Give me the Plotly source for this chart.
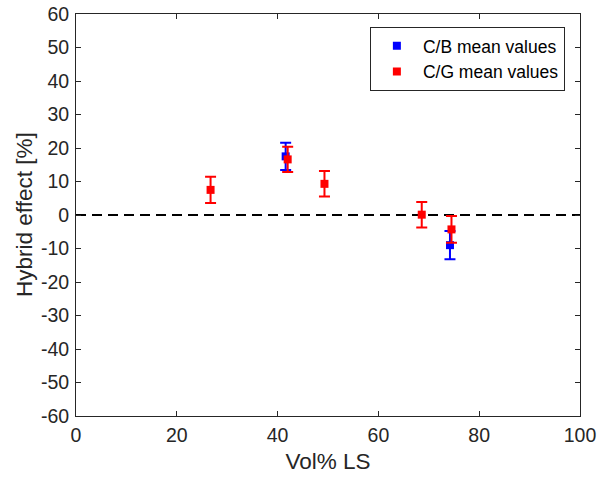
import plotly.graph_objects as go

cb_x = [41.6, 74.2]
cb_y = [17.5, -9.0]
cb_err = [4.1, 4.2]

cg_x = [26.7, 42.0, 49.3, 68.6, 74.5]
cg_y = [7.5, 16.6, 9.3, 0.1, -4.3]
cg_err = [3.9, 3.8, 3.8, 3.8, 4.0]

x_ticks = [0, 20, 40, 60, 80, 100]
y_ticks = list(range(-60, 61, 10))
y_tick_text = [str(v) for v in y_ticks]

font = "Liberation Sans, Arial, Helvetica, sans-serif"
ink = "#262626"

fig = go.Figure()
fig.add_trace(go.Scatter(x=[0, 100], y=[0, 0], mode="lines",
                         line=dict(color="black", width=2, dash="10px,6px"),
                         showlegend=False, hoverinfo="skip"))
fig.add_trace(go.Scatter(x=cb_x, y=cb_y, mode="markers", name="C/B mean values",
                         marker=dict(symbol="square", size=8, color="#0000ff"),
                         error_y=dict(type="data", array=cb_err, color="#0000ff",
                                      thickness=2, width=5.5)))
fig.add_trace(go.Scatter(x=cg_x, y=cg_y, mode="markers", name="C/G mean values",
                         marker=dict(symbol="square", size=8, color="#ff0000"),
                         error_y=dict(type="data", array=cg_err, color="#ff0000",
                                      thickness=2, width=5.5)))

axis_common = dict(showline=True, linecolor=ink, linewidth=1, mirror="ticks",
                   ticks="inside", ticklen=5, tickcolor=ink, showgrid=False,
                   zeroline=False, automargin=False, ticklabelstandoff=2,
                   tickfont=dict(family=font, size=19.5, color=ink))

fig.update_layout(
    width=598, height=481,
    margin=dict(l=76, r=18, t=14, b=65),
    plot_bgcolor="white", paper_bgcolor="white",
    font=dict(family=font, color=ink),
    xaxis=dict(range=[0, 100], tickvals=x_ticks,
               title=dict(text="Vol% LS", font=dict(family=font, size=22.5, color=ink), standoff=7),
               **axis_common),
    yaxis=dict(range=[-60, 60], tickvals=y_ticks, ticktext=y_tick_text,
               **axis_common),
    legend=dict(x=0.97, y=0.968, xanchor="right", yanchor="top",
                bordercolor=ink, borderwidth=1, bgcolor="white",
                font=dict(family=font, size=17.5, color="black"),
                tracegroupgap=0, itemwidth=42),
    annotations=[dict(text="Hybrid effect [%]", xref="paper", yref="paper",
                      x=0, y=0.5, xshift=-52, textangle=-90, showarrow=False,
                      xanchor="center", yanchor="middle",
                      font=dict(family=font, size=22.5, color=ink))],
)

fig.write_html("out.html")
